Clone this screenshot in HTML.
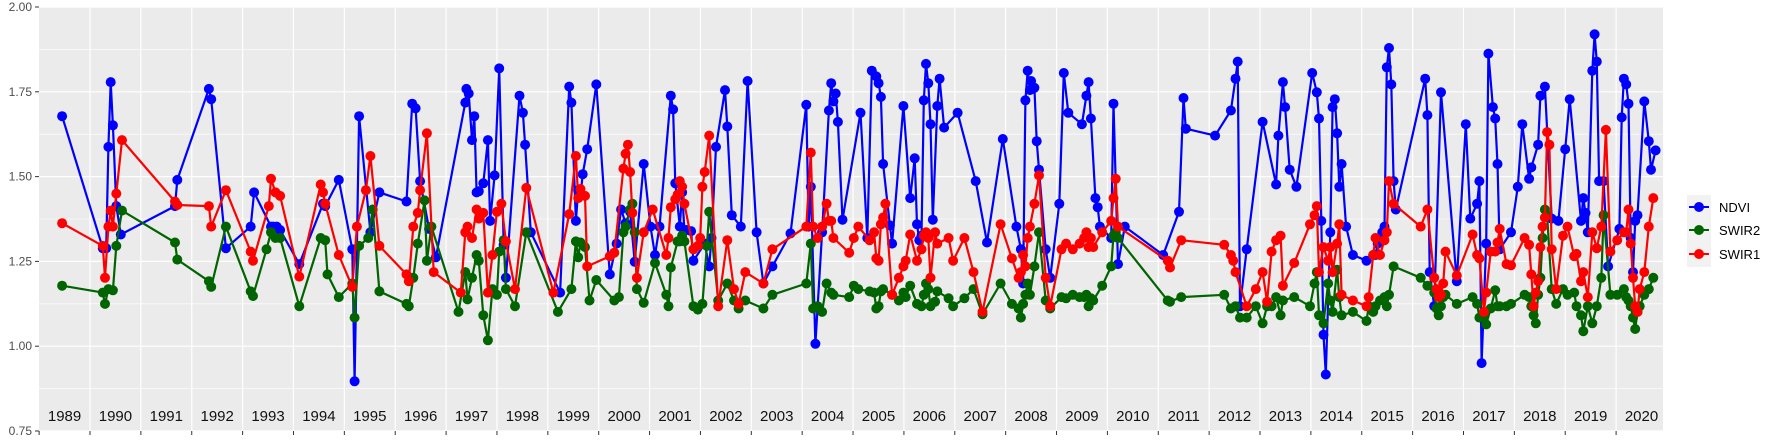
<!DOCTYPE html>
<html><head><meta charset="utf-8"><style>
html,body{margin:0;padding:0;background:#fff;}
svg{display:block;}
text{font-family:"Liberation Sans",sans-serif;}
</style></head><body>
<svg id="s" width="1773" height="442" xmlns="http://www.w3.org/2000/svg">
<rect x="0" y="0" width="1773" height="442" fill="#fff"/>
<rect x="39" y="7" width="1624" height="424" fill="#ebebeb"/>
<g id="grid"></g>
<g id="data"></g>
<g id="axes"></g>
<rect x="1687" y="195" width="24" height="72" fill="#f2f2f2"/>
<line x1="1689" y1="207" x2="1709" y2="207" stroke="#0000ff" stroke-width="2"/><circle cx="1699" cy="207" r="5" fill="#0000ff"/>
<line x1="1689" y1="230" x2="1709" y2="230" stroke="#006400" stroke-width="2"/><circle cx="1699" cy="230" r="5" fill="#006400"/>
<line x1="1689" y1="254" x2="1709" y2="254" stroke="#ff0000" stroke-width="2"/><circle cx="1699" cy="254" r="5" fill="#ff0000"/>
<text x="1719" y="212" font-size="13" fill="#000">NDVI</text>
<text x="1719" y="235" font-size="13" fill="#000">SWIR2</text>
<text x="1719" y="259" font-size="13" fill="#000">SWIR1</text>
</svg>
<script>
var NS="http://www.w3.org/2000/svg";
function el(p,t,a,txt){var e=document.createElementNS(NS,t);for(var k in a)e.setAttribute(k,a[k]);if(txt!==undefined)e.textContent=txt;p.appendChild(e);return e;}
var g=document.getElementById('grid'),ax=document.getElementById('axes'),d=document.getElementById('data');
function Y(v){return 7+(2-v)*339.2;}
var vals=[2.0,1.75,1.5,1.25,1.0,0.75];
[1.875,1.625,1.375,1.125,0.875].forEach(function(v){el(g,'line',{x1:39,x2:1663,y1:Y(v),y2:Y(v),stroke:'#fff','stroke-width':0.6});});
vals.forEach(function(v){el(g,'line',{x1:39,x2:1663,y1:Y(v),y2:Y(v),stroke:'#fff','stroke-width':1.2});
 el(ax,'line',{x1:35,x2:39,y1:Y(v),y2:Y(v),stroke:'#333','stroke-width':1});
 el(ax,'text',{x:32,y:Y(v)+4,'font-size':12,fill:'#4d4d4d','text-anchor':'end'},v.toFixed(2));});
var py=50.87;
for(var yr=1989;yr<=2020;yr++){
 var x=90+(yr-1990)*py;
 if(yr>=1990){el(g,'line',{x1:x,x2:x,y1:7,y2:431,stroke:'#fff','stroke-width':1.2});}
 el(ax,'line',{x1:x,x2:x,y1:431,y2:435,stroke:'#333','stroke-width':1});
 el(ax,'text',{x:x+py/2,y:421,'font-size':15,fill:'#111','text-anchor':'middle'},String(yr));
}
var B=[[55,103],[91,219],[94,219],[96,130],[98,73],[100,111],[103,182],[107,207],[155,182],[157,159],[185,79],[187,88],[200,219],[222,200],[225,170],[240,200],[242,200],[245,200],[248,203],[265,233],[286,180],[288,182],[300,159],[312,220],[314,336],[318,103],[328,205],[336,170],[360,178],[365,92],[368,96],[372,160],[380,202],[386,227],[412,91],[413,79],[415,83],[418,124],[420,103],[422,170],[424,169],[428,162],[432,124],[434,195],[438,155],[442,61],[446,216],[448,245],[460,85],[463,100],[465,128],[470,205],[496,258],[504,77],[506,91],[510,195],[512,168],[514,173],[516,154],[520,132],[528,75],[540,242],[546,215],[550,185],[554,197],[558,187],[562,231],[570,145],[576,200],[580,225],[584,200],[594,85],[596,97],[598,162],[602,200],[604,170],[606,203],[608,203],[612,204],[614,230],[624,215],[628,235],[630,210],[634,130],[642,80],[644,112],[648,190],[656,200],[662,72],[670,205],[676,250],[684,235],[700,206],[714,93],[716,200],[718,165],[722,303],[728,205],[734,98],[736,74],[738,90],[740,83],[742,108],[746,194],[762,100],[768,210],[772,63],[776,68],[778,74],[780,86],[782,145],[788,199],[790,215],[800,94],[806,175],[810,140],[812,198],[814,212],[816,208],[818,89],[820,57],[822,74],[824,110],[826,194],[830,94],[832,70],[836,113],[848,100],[864,160],[874,214],[888,123],[900,200],[904,220],[906,250],[908,89],[910,63],[912,80],[913,72],[916,78],[918,125],[920,150],[926,220],[930,245],[938,180],[942,65],[946,100],[958,110],[962,85],[964,73],[966,105],[970,175],[972,183],[974,200],[984,210],[986,92],[990,233],[996,200],[1030,225],[1044,187],[1048,87],[1050,114],[1076,120],[1090,98],[1094,70],[1096,55],[1098,270],[1104,220],[1118,108],[1130,163],[1132,120],[1136,73],[1138,95],[1142,150],[1148,165],[1162,65],[1166,82],[1168,105],[1170,195],[1172,295],[1174,330],[1178,205],[1180,95],[1182,88],[1184,118],[1186,165],[1188,145],[1192,200],[1198,225],[1210,230],[1216,225],[1218,225],[1220,215],[1222,210],[1224,205],[1226,200],[1228,60],[1230,43],[1232,75],[1234,160],[1236,185],[1262,70],[1264,102],[1266,240],[1270,270],[1276,82],[1290,248],[1298,110],[1302,193],[1308,180],[1310,160],[1312,320],[1316,215],[1318,48],[1322,95],[1324,105],[1326,145],[1328,220],[1338,205],[1344,165],[1348,110],[1354,158],[1356,148],[1362,128],[1364,85],[1368,77],[1374,193],[1380,195],[1386,132],[1390,88],[1400,195],[1402,175],[1404,188],[1406,205],[1410,63],[1412,31],[1414,55],[1416,160],[1420,160],[1424,235],[1434,202],[1436,104],[1438,70],[1440,75],[1442,92],[1444,210],[1446,240],[1448,195],[1450,190],[1456,90],[1460,125],[1462,150],[1466,133]];
var R=[[55,197],[91,217],[93,245],[96,200],[98,186],[100,200],[103,171],[108,124],[155,178],[157,181],[185,182],[187,200],[200,168],[222,222],[224,230],[238,182],[240,158],[244,170],[248,173],[265,244],[284,163],[286,170],[288,180],[300,225],[312,253],[316,200],[324,168],[328,138],[336,217],[360,242],[362,248],[366,200],[370,188],[372,168],[378,118],[384,240],[408,258],[412,205],[414,200],[418,210],[422,185],[424,193],[428,188],[432,258],[436,225],[440,187],[444,180],[448,213],[456,255],[466,166],[490,258],[504,189],[510,138],[512,175],[514,167],[518,173],[520,235],[540,226],[544,223],[552,149],[554,136],[556,128],[558,152],[560,188],[564,245],[570,205],[578,185],[590,225],[592,210],[594,183],[598,176],[600,172],[602,160],[604,165],[606,180],[614,220],[618,217],[620,210],[622,165],[624,152],[628,120],[636,270],[644,212],[650,255],[654,268],[660,240],[676,250],[684,220],[714,200],[718,135],[720,200],[724,210],[728,200],[732,180],[734,195],[736,195],[738,210],[752,223],[756,210],[760,200],[770,212],[774,205],[776,228],[778,230],[780,198],[782,192],[784,180],[790,260],[796,245],[800,235],[802,230],[806,207],[812,230],[816,220],[818,208],[820,205],[822,210],[824,245],[828,205],[830,215],[840,210],[844,230],[854,210],[862,240],[870,275],[886,198],[896,228],[902,245],[904,240],[906,225],[908,235],[910,210],[912,200],[916,180],[920,155],[926,245],[930,270],[940,220],[944,215],[950,220],[956,215],[960,210],[962,205],[964,218],[966,210],[968,218],[976,205],[984,195],[986,175],[988,158],[990,200],[1034,230],[1036,236],[1046,212],[1084,216],[1090,225],[1092,230],[1094,240],[1104,270],[1112,255],[1118,240],[1122,266],[1126,222],[1130,212],[1134,208],[1136,252],[1146,232],[1160,198],[1164,190],[1166,182],[1168,240],[1172,218],[1176,230],[1178,218],[1180,240],[1184,215],[1186,198],[1188,260],[1198,265],[1210,270],[1212,262],[1216,225],[1218,210],[1222,225],[1226,212],[1228,205],[1230,160],[1234,180],[1258,200],[1264,185],[1270,245],[1272,255],[1274,262],[1276,260],[1278,250],[1280,222],[1290,243],[1304,207],[1308,225],[1310,228],[1314,275],[1316,258],[1320,222],[1324,222],[1326,214],[1328,202],[1334,233],[1338,234],[1350,210],[1354,216],[1356,242],[1358,270],[1360,258],[1362,248],[1364,218],[1366,200],[1368,192],[1370,117],[1372,128],[1374,220],[1378,255],[1384,208],[1388,200],[1394,226],[1396,224],[1400,248],[1402,240],[1406,262],[1410,205],[1414,219],[1418,200],[1422,115],[1426,222],[1432,212],[1438,205],[1440,205],[1442,185],[1444,215],[1446,245],[1448,270],[1450,275],[1452,255],[1456,240],[1460,200],[1464,175]];
var G=[[55,252],[91,258],[93,268],[96,255],[100,256],[103,217],[108,186],[155,214],[157,229],[185,248],[187,253],[200,200],[222,257],[224,261],[236,220],[240,205],[244,210],[248,210],[265,270],[284,210],[288,212],[290,242],[300,262],[312,250],[314,280],[318,217],[326,210],[330,185],[336,257],[360,268],[362,270],[366,245],[370,215],[376,177],[378,230],[382,200],[406,275],[412,240],[414,264],[418,245],[422,225],[424,230],[428,278],[432,300],[436,255],[440,260],[442,222],[446,212],[448,255],[456,270],[466,205],[494,275],[506,255],[510,213],[512,227],[514,214],[518,218],[522,265],[528,247],[544,265],[548,262],[552,205],[554,200],[558,185],[560,180],[562,205],[564,255],[570,267],[580,232],[590,260],[592,270],[594,236],[600,213],[602,213],[604,208],[606,213],[614,270],[618,273],[622,268],[626,217],[628,187],[636,265],[644,250],[650,265],[654,272],[660,265],[676,272],[684,260],[714,250],[718,215],[720,272],[724,270],[728,275],[732,250],[736,258],[738,260],[752,262],[756,252],[760,255],[770,257],[774,258],[776,272],[778,270],[780,257],[782,255],[790,260],[796,265],[800,258],[802,262],[806,252],[812,268],[816,270],[818,260],[820,250],[822,255],[824,270],[828,266],[830,257],[840,263],[844,270],[854,263],[862,255],[870,277],[886,250],[896,268],[902,272],[904,280],[906,268],[908,260],[910,250],[912,260],[916,235],[920,205],[926,265],[930,272],[940,262],[944,263],[950,260],[956,262],[960,262],[962,260],[964,270],[966,263],[968,265],[976,252],[984,235],[986,208],[988,205],[990,210],[1034,265],[1036,266],[1046,262],[1084,260],[1090,272],[1094,270],[1098,280],[1104,280],[1112,270],[1118,285],[1122,270],[1126,270],[1130,262],[1134,278],[1136,265],[1146,262],[1160,270],[1164,250],[1166,240],[1168,278],[1172,285],[1176,250],[1178,265],[1180,275],[1184,238],[1186,262],[1188,278],[1198,275],[1210,283],[1212,270],[1216,275],[1218,270],[1222,265],[1226,262],[1228,270],[1230,260],[1234,235],[1258,245],[1264,252],[1270,258],[1272,272],[1274,278],[1276,270],[1278,262],[1280,260],[1290,268],[1304,262],[1308,268],[1310,280],[1314,278],[1316,286],[1320,272],[1324,256],[1326,270],[1328,270],[1334,270],[1338,268],[1350,260],[1354,262],[1356,270],[1358,278],[1360,285],[1362,260],[1364,245],[1366,210],[1368,185],[1370,190],[1374,255],[1378,268],[1384,255],[1388,260],[1394,258],[1396,270],[1400,278],[1402,292],[1406,270],[1410,285],[1414,270],[1418,245],[1420,190],[1426,260],[1432,260],[1438,255],[1440,262],[1442,265],[1444,270],[1446,280],[1448,290],[1450,275],[1452,270],[1456,260],[1460,255],[1464,245]];
function draw(arr,col){
 var pts=arr.map(function(p){return [p[0]*1.1293,7+(p[1]-7)*1.1377];});
 el(d,'polyline',{points:pts.map(function(p){return p[0].toFixed(1)+','+p[1].toFixed(1);}).join(' '),fill:'none',stroke:col,'stroke-width':2.2,'stroke-linejoin':'round'});
 pts.forEach(function(p){el(d,'circle',{cx:p[0].toFixed(1),cy:p[1].toFixed(1),r:5,fill:col});});
}
draw(B,'#0000ff');draw(G,'#006400');draw(R,'#ff0000');
</script>
</body></html>
